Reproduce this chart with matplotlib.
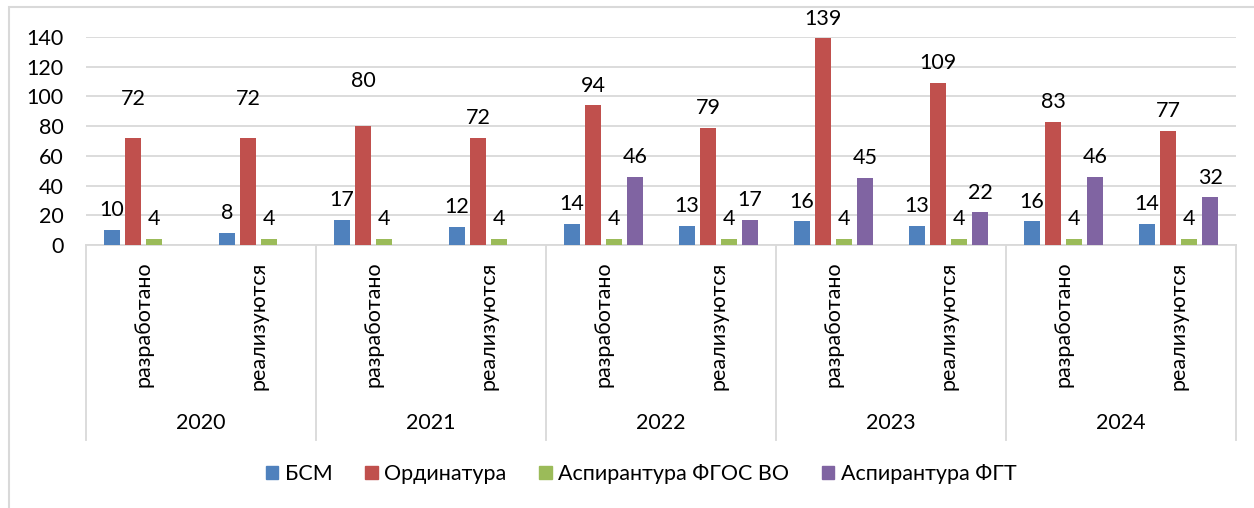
import numpy as np
import matplotlib
matplotlib.use('Agg')
import matplotlib.pyplot as plt
from matplotlib.patches import Rectangle
import matplotlib.transforms as mtransforms

plt.rcParams['font.family'] = ['Lato', 'DejaVu Sans']

years = ['2020', '2021', '2022', '2023', '2024']
kinds = ['разработано', 'реализуются']
series = ['БСМ', 'Ординатура', 'Аспирантура ФГОС ВО', 'Аспирантура ФГТ']
bsm = [10, 8, 17, 12, 14, 13, 16, 13, 16, 14]
ordin = [72, 72, 80, 72, 94, 79, 139, 109, 83, 77]
asp_fgos = [4, 4, 4, 4, 4, 4, 4, 4, 4, 4]
asp_fgt = [np.nan, np.nan, np.nan, np.nan, 46, 17, 45, 22, 46, 32]
colors = ['#4f81bd', '#c0504d', '#9bbb59', '#8064a2']

# extra lift (points) of some labels, as placed in the source
label_lift = {(1, 0): 14, (1, 1): 14, (1, 2): 18}
FS = 15.5

W, H = 1254, 508
fig = plt.figure(figsize=(W / 100, H / 100), dpi=100)

# outer chart frame (cut off on the right and bottom)
fig.patches.append(Rectangle((9 / W, -0.1), 1.2, 1.1 - 7 / H, transform=fig.transFigure,
                             fill=False, edgecolor='#d9d9d9', linewidth=1.5))

x0, x1, ytop, ybot = 86, 1236, 37, 245
ax = fig.add_axes([x0 / W, 1 - ybot / H, (x1 - x0) / W, (ybot - ytop) / H])

n = len(bsm)
x = np.arange(n)
step, bw = 0.183, 0.14
data = [bsm, ordin, asp_fgos, asp_fgt]
for k, (vals, col) in enumerate(zip(data, colors)):
    xs = x + (k - 1.5) * step
    ax.bar(xs, vals, width=bw, color=col, zorder=3)
    for i, v in enumerate(vals):
        if np.isnan(v):
            continue
        ax.annotate(str(int(v)), (xs[i], v), xytext=(0, 7 + label_lift.get((k, i), 0)),
                    textcoords='offset points', ha='center', va='bottom', fontsize=FS)

ax.set_xlim(-0.5, n - 0.5)
ax.set_ylim(0, 140)
ax.set_yticks(range(0, 141, 20))
ax.grid(axis='y', color='#d9d9d9', linewidth=1.3, zorder=0)
for s in ax.spines.values():
    s.set_visible(False)
ax.tick_params(axis='y', length=0, pad=16, labelsize=FS)
ax.set_xticks(x)
ax.set_xticklabels(kinds * len(years), rotation=90, va='top', fontsize=FS)
ax.tick_params(axis='x', length=0, pad=12)

# multi-level category axis
tr = mtransforms.blended_transform_factory(ax.transData, ax.transAxes)
ah = ybot - ytop
low = -(440 - ybot) / ah
ax.plot([-0.5, n - 0.5], [0, 0], transform=tr, color='#d9d9d9', lw=1.3, clip_on=False)
for j in range(len(years) + 1):
    xv = -0.5 + 2 * j
    ax.plot([xv, xv], [0, low], transform=tr, color='#d9d9d9', lw=1.3, clip_on=False)
for j, yr in enumerate(years):
    ax.text(2 * j + 0.5, -(423 - ybot) / ah, yr, transform=tr, ha='center', va='center',
            fontsize=FS)

handles = [Rectangle((0, 0), 1, 1, color=c) for c in colors]
fig.legend(handles, series, loc='center', bbox_to_anchor=(641 / W, 1 - 474 / H), ncol=4,
           frameon=False, fontsize=FS, handlelength=0.6, handleheight=0.6,
           handletextpad=0.3, columnspacing=1.5)

fig.savefig('out.png', dpi=100)
